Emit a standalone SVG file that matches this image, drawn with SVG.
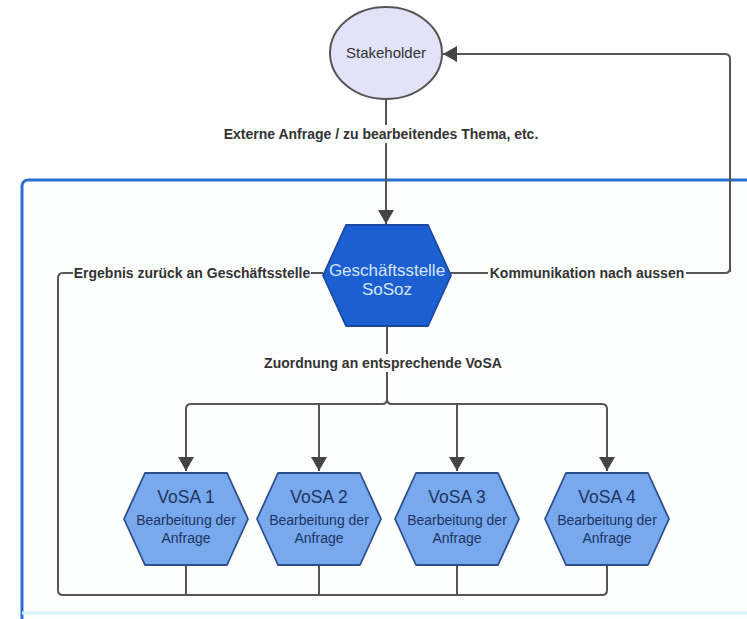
<svg xmlns="http://www.w3.org/2000/svg" width="747" height="619" viewBox="0 0 747 619">
<defs>
<marker id="ah" viewBox="0 0 14 20" refX="14" refY="10" markerWidth="14" markerHeight="20" markerUnits="userSpaceOnUse" orient="auto">
<path d="M0,2 L14,10 L0,18 Z" fill="#444"/>
</marker>
<style>
.c{fill:none;stroke:#555;stroke-width:2;stroke-linejoin:round}
.lbl{font-family:"Liberation Sans",Arial,sans-serif;font-size:14px;font-weight:bold;fill:#333}
.vh{fill:#78a8ee;stroke:#2b4f8a;stroke-width:1.8;stroke-linejoin:round}
.vt{font-family:"Liberation Sans",Arial,sans-serif;fill:#1d3560;text-anchor:middle}
</style>
</defs>
<rect x="0" y="0" width="747" height="619" fill="#ffffff"/>
<rect x="22" y="180" width="760" height="460" rx="6" fill="#fdfefe" stroke="#2a6fd0" stroke-width="3"/>
<line x1="22" y1="613" x2="747" y2="613" stroke="#d8f4fb" stroke-width="3"/>

<g id="connectors">
<path class="c" d="M386,99 V224" marker-end="url(#ah)"/>
<path class="c" d="M730,272 V59 Q730,54 725,54 H443" marker-end="url(#ah)"/>
<path class="c" d="M450,273 H488"/>
<path class="c" d="M686,273 H725 Q730,273 730,268"/>
<path class="c" d="M323,273 H311"/>
<path class="c" d="M73,273 H63 Q58,273 58,278 V590 Q58,595 63,595 H602 Q607,595 607,590 V565"/>
<path class="c" d="M186,565 V595"/>
<path class="c" d="M319,565 V595"/>
<path class="c" d="M457,565 V595"/>
<path class="c" d="M387,326 V399 Q387,404 382,404 H191 Q186,404 186,409 V471" marker-end="url(#ah)"/>
<path class="c" d="M387,399 Q387,404 392,404 H602 Q607,404 607,409 V471" marker-end="url(#ah)"/>
<path class="c" d="M319,404 V471" marker-end="url(#ah)"/>
<path class="c" d="M457,404 V471" marker-end="url(#ah)"/>
<rect x="220" y="125" width="322" height="18" fill="#ffffff"/>
<text class="lbl" x="381" y="139" text-anchor="middle">Externe Anfrage / zu bearbeitendes Thema, etc.</text>
<rect x="262" y="354" width="242" height="18" fill="#ffffff"/>
<text class="lbl" x="383" y="368" text-anchor="middle">Zuordnung an entsprechende VoSA</text>
<text class="lbl" x="192" y="278" text-anchor="middle">Ergebnis zurück an Geschäftsstelle</text>
<text class="lbl" x="587" y="278" text-anchor="middle">Kommunikation nach aussen</text>
</g>

<g id="stakeholder">
<ellipse cx="386" cy="53" rx="56" ry="46" fill="#e2e2f8" stroke="#555" stroke-width="2"/>
<text x="386" y="58" text-anchor="middle" font-family="Liberation Sans, Arial, sans-serif" font-size="15" fill="#333">Stakeholder</text>
</g>

<g id="geschaeftsstelle">
<path d="M346,225 H428 L451,275.5 L428,326 H346 L323,275.5 Z" fill="#1b5fd2" stroke="#1a4aa0" stroke-width="1.8" stroke-linejoin="round"/>
<text x="387" y="276" text-anchor="middle" font-family="Liberation Sans, Arial, sans-serif" font-size="17" fill="#d6e6ff">Geschäftsstelle</text>
<text x="387" y="295" text-anchor="middle" font-family="Liberation Sans, Arial, sans-serif" font-size="17" fill="#d6e6ff">SoSoz</text>
</g>

<g id="vosa1">
<path class="vh" d="M145,473 H227 L248,519 L227,565 H145 L124,519 Z"/>
<text class="vt" x="186" y="503" font-size="17.5">VoSA 1</text>
<text class="vt" x="186" y="525" font-size="14">Bearbeitung der</text>
<text class="vt" x="186" y="543" font-size="14">Anfrage</text>
</g>
<g id="vosa2">
<path class="vh" d="M278,473 H360 L381,519 L360,565 H278 L257,519 Z"/>
<text class="vt" x="319" y="503" font-size="17.5">VoSA 2</text>
<text class="vt" x="319" y="525" font-size="14">Bearbeitung der</text>
<text class="vt" x="319" y="543" font-size="14">Anfrage</text>
</g>
<g id="vosa3">
<path class="vh" d="M416,473 H498 L519,519 L498,565 H416 L395,519 Z"/>
<text class="vt" x="457" y="503" font-size="17.5">VoSA 3</text>
<text class="vt" x="457" y="525" font-size="14">Bearbeitung der</text>
<text class="vt" x="457" y="543" font-size="14">Anfrage</text>
</g>
<g id="vosa4">
<path class="vh" d="M566,473 H648 L669,519 L648,565 H566 L545,519 Z"/>
<text class="vt" x="607" y="503" font-size="17.5">VoSA 4</text>
<text class="vt" x="607" y="525" font-size="14">Bearbeitung der</text>
<text class="vt" x="607" y="543" font-size="14">Anfrage</text>
</g>
</svg>
